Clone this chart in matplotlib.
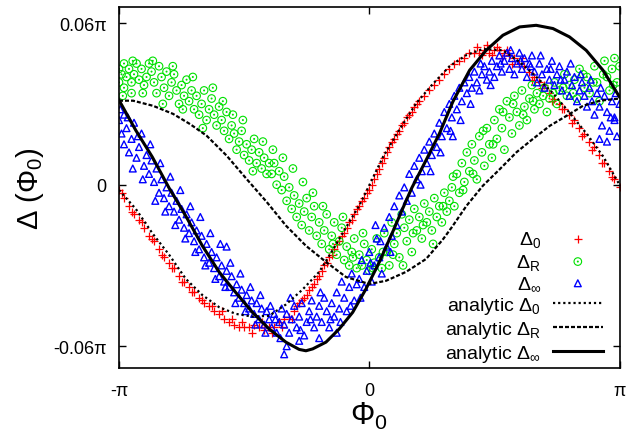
import numpy as np
import matplotlib
matplotlib.use("Agg")
import matplotlib.pyplot as plt
from matplotlib.path import Path

plt.rcParams['font.family'] = ['Liberation Sans', 'DejaVu Sans']
plt.rcParams['mathtext.fontset'] = 'custom'
plt.rcParams['mathtext.rm'] = 'Liberation Sans'
plt.rcParams['mathtext.it'] = 'Liberation Sans:italic'
plt.rcParams['mathtext.bf'] = 'Liberation Sans:bold'

# all values in units of pi: (Phi_0 / pi, Delta / pi)

# Delta_0 simulation points
delta0_pts = [
    (-1.00, -0.002), (-0.98, -0.005), (-0.96, -0.008), (-0.94, -0.011), (-0.92, -0.013),
    (-0.90, -0.016), (-0.88, -0.019), (-0.86, -0.021), (-0.84, -0.024), (-0.82, -0.027),
    (-0.80, -0.029), (-0.78, -0.031), (-0.76, -0.034), (-0.74, -0.036), (-0.72, -0.038),
    (-0.70, -0.040), (-0.68, -0.042), (-0.66, -0.044), (-0.64, -0.045), (-0.62, -0.047),
    (-0.60, -0.048), (-0.58, -0.050), (-0.56, -0.051), (-0.54, -0.052), (-0.52, -0.053),
    (-0.50, -0.053), (-0.48, -0.053), (-0.46, -0.052), (-0.44, -0.053), (-0.42, -0.054),
    (-0.40, -0.053), (-0.38, -0.053), (-0.36, -0.051), (-0.34, -0.050), (-0.32, -0.049),
    (-0.30, -0.047),
    (-0.99, -0.003), (-0.95, -0.010), (-0.91, -0.014), (-0.87, -0.020), (-0.83, -0.026),
    (-0.79, -0.031), (-0.75, -0.036), (-0.71, -0.040), (-0.67, -0.043), (-0.63, -0.045),
    (-0.59, -0.047), (-0.55, -0.050), (-0.51, -0.051), (-0.47, -0.055), (-0.43, -0.051),
    (-0.39, -0.055), (-0.35, -0.053), (-0.31, -0.050),
    (-0.29, -0.045), (-0.28, -0.044), (-0.27, -0.043), (-0.26, -0.042), (-0.25, -0.041),
    (-0.24, -0.039), (-0.23, -0.038), (-0.22, -0.037), (-0.21, -0.035), (-0.20, -0.034),
    (-0.19, -0.032), (-0.18, -0.030), (-0.17, -0.029), (-0.16, -0.027), (-0.15, -0.026),
    (-0.14, -0.024), (-0.13, -0.022), (-0.12, -0.021), (-0.11, -0.019), (-0.10, -0.018),
    (-0.09, -0.016), (-0.08, -0.014), (-0.07, -0.013), (-0.06, -0.011), (-0.05, -0.009),
    (-0.04, -0.008), (-0.03, -0.006), (-0.02, -0.005), (-0.01, -0.003), (0.00, -0.002),
    (0.01, 0.000), (0.02, 0.002), (0.03, 0.004), (0.04, 0.006), (0.05, 0.008),
    (0.06, 0.010), (0.07, 0.012), (0.08, 0.014), (0.09, 0.016), (0.10, 0.017),
    (0.11, 0.019), (0.12, 0.020), (0.13, 0.022), (0.14, 0.023), (0.15, 0.025),
    (0.16, 0.026), (0.17, 0.027), (0.18, 0.029), (0.19, 0.030), (0.20, 0.031),
    (0.22, 0.033), (0.24, 0.035), (0.26, 0.037), (0.28, 0.039), (0.30, 0.041),
    (0.32, 0.043), (0.34, 0.045), (0.36, 0.046), (0.38, 0.047), (0.40, 0.049),
    (0.42, 0.049), (0.44, 0.049), (0.46, 0.050), (0.48, 0.049), (0.50, 0.050),
    (0.52, 0.050), (0.54, 0.049), (0.56, 0.048), (0.58, 0.047), (0.60, 0.045),
    (0.62, 0.044), (0.64, 0.042), (0.66, 0.040), (0.68, 0.038), (0.70, 0.037),
    (0.72, 0.034), (0.74, 0.032), (0.76, 0.030), (0.78, 0.028), (0.80, 0.026),
    (0.82, 0.024), (0.84, 0.021), (0.86, 0.019), (0.88, 0.016), (0.90, 0.014),
    (0.92, 0.011), (0.94, 0.008), (0.96, 0.005), (0.98, 0.002), (1.00, -0.001),
    (0.43, 0.051), (0.45, 0.048), (0.47, 0.052), (0.49, 0.048), (0.51, 0.051),
    (0.53, 0.047), (0.55, 0.050), (0.57, 0.045), (0.61, 0.047), (0.65, 0.039),
    (0.69, 0.036), (0.73, 0.031), (0.77, 0.028), (0.81, 0.023), (0.85, 0.018),
    (0.89, 0.013), (0.93, 0.008), (0.97, 0.003),
]

# Delta_R simulation points
deltaR_pts = [
    (-1.00, 0.043), (-1.00, 0.038), (-0.99, 0.041), (-0.98, 0.045), (-0.98, 0.036),
    (-0.97, 0.040), (-0.96, 0.043), (-0.95, 0.038), (-0.95, 0.034), (-0.94, 0.041),
    (-0.93, 0.045), (-0.92, 0.039), (-0.91, 0.043), (-0.90, 0.037), (-0.89, 0.040),
    (-0.88, 0.045), (-0.87, 0.042), (-0.86, 0.038), (-0.85, 0.034), (-0.84, 0.044),
    (-0.83, 0.040), (-0.82, 0.036), (-0.81, 0.042), (-0.80, 0.033), (-0.79, 0.038),
    (-0.78, 0.041), (-0.77, 0.035), (-0.76, 0.030), (-0.75, 0.037), (-0.74, 0.033),
    (-0.73, 0.039), (-0.72, 0.031), (-0.71, 0.035), (-0.70, 0.028),
    (-0.69, 0.033), (-0.68, 0.026), (-0.67, 0.030), (-0.66, 0.035), (-0.65, 0.024),
    (-0.64, 0.028), (-0.63, 0.032), (-0.62, 0.026), (-0.61, 0.022), (-0.60, 0.029),
    (-0.59, 0.024), (-0.58, 0.020), (-0.57, 0.027), (-0.56, 0.017), (-0.55, 0.022),
    (-0.54, 0.019), (-0.53, 0.013), (-0.52, 0.016), (-0.51, 0.020), (-0.50, 0.011),
    (-0.49, 0.015), (-0.48, 0.009), (-0.47, 0.013), (-0.46, 0.017), (-0.45, 0.008),
    (-0.44, 0.012), (-0.43, 0.006), (-0.42, 0.010), (-0.41, 0.004), (-0.40, 0.008),
    (-0.39, 0.004), (-0.38, 0.008), (-0.37, 0.000), (-0.36, 0.005), (-0.35, -0.002),
    (-0.34, 0.003), (-0.33, -0.006), (-0.32, -0.001), (-0.31, -0.009), (-0.30, -0.004),
    (-0.29, -0.012), (-0.28, -0.007), (-0.27, -0.015), (-0.26, -0.010), (-0.25, -0.005),
    (-0.24, -0.017), (-0.23, -0.012), (-0.22, -0.008), (-0.21, -0.019), (-0.20, -0.014),
    (-0.19, -0.022), (-0.18, -0.017), (-0.17, -0.011), (-0.16, -0.024), (-0.15, -0.019),
    (-0.14, -0.014), (-0.13, -0.026), (-0.12, -0.021), (-0.11, -0.016), (-0.10, -0.028),
    (-0.09, -0.023), (-0.08, -0.030), (-0.07, -0.025), (-0.06, -0.020), (-0.05, -0.031),
    (-0.04, -0.026), (-0.03, -0.030), (-0.02, -0.022), (-0.01, -0.028), (0.00, -0.032),
    (0.01, -0.024), (0.02, -0.029), (0.03, -0.020), (0.04, -0.027), (0.05, -0.031),
    (0.06, -0.018), (0.07, -0.025),
    (0.08, -0.030), (0.09, -0.014), (0.10, -0.022), (0.11, -0.018), (0.12, -0.027),
    (0.13, -0.011), (0.14, -0.016), (0.15, -0.021), (0.16, -0.013), (0.17, -0.025),
    (0.18, -0.009), (0.19, -0.017), (0.20, -0.012), (0.21, -0.020), (0.22, -0.007),
    (0.23, -0.014), (0.24, -0.010), (0.25, -0.017), (0.26, -0.005), (0.27, -0.012),
    (0.28, -0.008), (0.29, -0.014), (0.30, -0.003), (0.31, -0.010), (0.32, -0.006),
    (0.33, -0.001), (0.34, -0.008),
    (0.35, 0.004), (0.36, -0.003), (0.37, 0.008), (0.38, 0.001), (0.39, 0.012),
    (0.40, 0.005), (0.41, 0.015), (0.42, 0.009), (0.43, 0.002), (0.44, 0.018),
    (0.45, 0.012), (0.46, 0.007), (0.47, 0.021), (0.48, 0.015), (0.49, 0.010),
    (0.50, 0.024),
    (0.51, 0.017), (0.52, 0.028), (0.53, 0.021), (0.54, 0.013), (0.55, 0.031),
    (0.56, 0.025), (0.57, 0.019), (0.58, 0.033), (0.59, 0.027), (0.60, 0.022),
    (0.61, 0.035), (0.62, 0.029), (0.63, 0.024), (0.64, 0.032), (0.65, 0.037),
    (0.66, 0.028), (0.67, 0.034), (0.68, 0.030), (0.70, 0.036), (0.71, 0.027),
    (0.72, 0.032), (0.74, 0.038), (0.75, 0.030), (0.76, 0.035), (0.78, 0.041),
    (0.79, 0.033), (0.80, 0.037),
    (0.82, 0.039), (0.83, 0.032), (0.84, 0.043), (0.86, 0.036), (0.87, 0.040),
    (0.88, 0.034), (0.90, 0.044), (0.91, 0.038), (0.92, 0.031), (0.94, 0.046),
    (0.95, 0.040), (0.96, 0.035), (0.97, 0.043), (0.98, 0.047), (0.99, 0.038),
    (1.00, 0.044),
    (-0.985, 0.033), (-0.945, 0.046), (-0.905, 0.034), (-0.865, 0.046), (-0.825, 0.030),
    (-0.785, 0.044), (-0.745, 0.028), (-0.705, 0.040), (-0.665, 0.021), (-0.625, 0.036),
    (-0.585, 0.031), (-0.545, 0.026), (-0.505, 0.024), (-0.465, 0.005), (-0.425, 0.016),
    (-0.385, 0.013), (-0.345, 0.010), (-0.305, 0.006), (-0.265, 0.001), (-0.225, -0.003),
    (-0.185, -0.008), (-0.145, -0.022), (-0.105, -0.012), (-0.065, -0.027), (-0.025, -0.018),
    (0.015, -0.031), (0.055, -0.025), (0.095, -0.026), (0.135, -0.030), (0.175, -0.018),
    (0.215, -0.015), (0.255, -0.022), (0.295, -0.008), (0.335, 0.003), (0.375, -0.002),
    (0.415, 0.004), (0.455, 0.020), (0.495, 0.015), (0.535, 0.027), (0.575, 0.030),
    (0.615, 0.026), (0.655, 0.031), (0.695, 0.033), (0.735, 0.034), (0.775, 0.036),
    (0.815, 0.034), (0.855, 0.041), (0.895, 0.038), (0.935, 0.041), (0.975, 0.037),
]

# Delta_inf simulation points
deltaInf_pts = [
    (-1.00, 0.024), (-0.99, 0.019), (-0.98, 0.026), (-0.98, 0.015), (-0.97, 0.021),
    (-0.96, 0.012), (-0.95, 0.017), (-0.94, 0.023), (-0.93, 0.010), (-0.92, 0.014),
    (-0.91, 0.019), (-0.90, 0.007), (-0.89, 0.011), (-0.88, 0.004), (-0.87, 0.009),
    (-0.86, 0.001), (-0.85, 0.006), (-0.84, -0.003), (-0.83, 0.002), (-0.82, -0.005),
    (-0.81, -0.001), (-0.80, -0.008), (-0.79, -0.003), (-0.78, -0.010), (-0.77, -0.006),
    (-0.76, -0.013), (-0.75, -0.009), (-0.74, -0.016), (-0.73, -0.011), (-0.72, -0.018),
    (-0.71, -0.014), (-0.70, -0.021), (-0.69, -0.017), (-0.68, -0.024), (-0.67, -0.019),
    (-0.66, -0.027), (-0.65, -0.022), (-0.64, -0.029), (-0.63, -0.025), (-0.62, -0.031),
    (-0.61, -0.027), (-0.60, -0.034), (-0.59, -0.030), (-0.58, -0.036), (-0.57, -0.032),
    (-0.56, -0.038), (-0.55, -0.034), (-0.54, -0.040), (-0.53, -0.037), (-0.52, -0.042),
    (-0.51, -0.039), (-0.50, -0.044), (-0.49, -0.041), (-0.48, -0.046), (-0.47, -0.043),
    (-0.46, -0.048), (-0.45, -0.044), (-0.44, -0.050), (-0.43, -0.046), (-0.42, -0.052),
    (-0.41, -0.047), (-0.40, -0.050), (-0.39, -0.053), (-0.38, -0.048), (-0.37, -0.055),
    (-0.36, -0.051), (-0.35, -0.046), (-0.57, -0.023),
    (-0.995, 0.028), (-0.965, 0.025), (-0.945, 0.006), (-0.925, 0.018), (-0.905, 0.002),
    (-0.875, 0.015), (-0.855, -0.006), (-0.835, 0.008), (-0.815, -0.010), (-0.795, 0.003),
    (-0.775, -0.015), (-0.755, -0.002), (-0.735, -0.020), (-0.715, -0.008), (-0.695, -0.025),
    (-0.675, -0.012), (-0.655, -0.030), (-0.635, -0.018), (-0.615, -0.035), (-0.595, -0.022),
    (-0.575, -0.038), (-0.555, -0.029), (-0.535, -0.044), (-0.515, -0.033), (-0.495, -0.047),
    (-0.475, -0.038), (-0.455, -0.052), (-0.435, -0.041), (-0.415, -0.055), (-0.395, -0.045),
    (-0.375, -0.050), (-0.355, -0.057),
    (-0.34, -0.052), (-0.33, -0.048), (-0.32, -0.055), (-0.31, -0.050), (-0.30, -0.045),
    (-0.29, -0.053), (-0.28, -0.049), (-0.27, -0.044), (-0.26, -0.056), (-0.25, -0.051),
    (-0.24, -0.047), (-0.23, -0.043), (-0.22, -0.053), (-0.21, -0.049), (-0.20, -0.045),
    (-0.19, -0.051), (-0.18, -0.042), (-0.17, -0.047), (-0.16, -0.053), (-0.15, -0.044),
    (-0.14, -0.049), (-0.13, -0.040), (-0.12, -0.046), (-0.11, -0.036), (-0.10, -0.042),
    (-0.09, -0.047), (-0.08, -0.038), (-0.07, -0.033), (-0.06, -0.043), (-0.05, -0.037),
    (-0.04, -0.035), (-0.03, -0.028), (-0.02, -0.038), (-0.01, -0.032), (0.00, -0.025),
    (0.01, -0.036), (0.02, -0.030), (0.03, -0.020), (0.04, -0.027), (0.05, -0.033),
    (0.06, -0.016), (0.07, -0.023), (0.08, -0.012), (0.09, -0.019), (0.10, -0.008),
    (0.11, -0.015), (0.12, -0.004), (0.13, -0.010), (0.14, -0.001), (0.15, -0.006),
    (-0.33, -0.060), (-0.34, -0.063), (-0.28, -0.058), (-0.20, -0.057), (-0.13, -0.055),
    (-0.315, -0.042), (-0.275, -0.054), (-0.235, -0.050), (-0.195, -0.040), (-0.155, -0.050),
    (-0.115, -0.051), (-0.075, -0.045), (-0.035, -0.042), (0.005, -0.029), (0.045, -0.021),
    (0.085, -0.025), (0.025, -0.015),
    (0.16, 0.004), (0.17, -0.003), (0.18, 0.007), (0.19, 0.002), (0.20, 0.010),
    (0.21, 0.005), (0.22, 0.013), (0.23, 0.008), (0.24, 0.016), (0.25, 0.011),
    (0.26, 0.019), (0.27, 0.014), (0.28, 0.023), (0.29, 0.018), (0.30, 0.027),
    (0.31, 0.021), (0.32, 0.030), (0.33, 0.025), (0.34, 0.033), (0.35, 0.028),
    (0.36, 0.036), (0.37, 0.031), (0.38, 0.038), (0.39, 0.034), (0.40, 0.040),
    (0.41, 0.036), (0.42, 0.042), (0.43, 0.038), (0.44, 0.035), (0.45, 0.041),
    (0.46, 0.044), (0.47, 0.039), (0.48, 0.042), (0.49, 0.046), (0.50, 0.040),
    (0.51, 0.044), (0.52, 0.048), (0.53, 0.042), (0.54, 0.046), (0.55, 0.049),
    (0.56, 0.043), (0.57, 0.047), (0.58, 0.041), (0.59, 0.045), (0.60, 0.049),
    (0.61, 0.043), (0.62, 0.047), (0.63, 0.040), (0.64, 0.045), (0.65, 0.048),
    (0.66, 0.042), (0.67, 0.038), (0.68, 0.045), (0.69, 0.041), (0.70, 0.036),
    (0.71, 0.043), (0.72, 0.039), (0.73, 0.046), (0.74, 0.037), (0.75, 0.041),
    (0.76, 0.044), (0.77, 0.035), (0.78, 0.039), (0.79, 0.042), (0.80, 0.033),
    (0.81, 0.037), (0.82, 0.040), (0.83, 0.031), (0.84, 0.035), (0.85, 0.038),
    (0.86, 0.033), (0.87, 0.029), (0.88, 0.036), (0.89, 0.031), (0.90, 0.026),
    (0.91, 0.034), (0.92, 0.029), (0.93, 0.022), (0.94, 0.033), (0.95, 0.027),
    (0.96, 0.020), (0.97, 0.031), (0.98, 0.025), (0.99, 0.018), (1.00, 0.030),
    (0.92, 0.017), (0.95, 0.016), (0.98, 0.024), (0.334, 0.018),
    (0.205, 0.000), (0.245, 0.005), (0.285, 0.012), (0.325, 0.020), (0.365, 0.024),
    (0.405, 0.030), (0.445, 0.045), (0.485, 0.037), (0.525, 0.045), (0.565, 0.050),
    (0.605, 0.046), (0.645, 0.044), (0.685, 0.048), (0.725, 0.043), (0.765, 0.039),
    (0.805, 0.045), (0.845, 0.041), (0.885, 0.039), (0.925, 0.036), (0.965, 0.025),
    (0.985, 0.034),
]

# analytic curves
an0_x = [-1.0, -0.933, -0.867, -0.8, -0.733, -0.667, -0.6, -0.533, -0.467, -0.4,
         -0.333, -0.267, -0.2, -0.16, -0.12, -0.08, -0.04, -0.007, 0.055, 0.122,
         0.189, 0.254, 0.322, 0.389, 0.454, 0.534, 0.601, 0.668, 0.736, 0.803,
         0.869, 0.936, 1.0]
an0_y = [-0.002, -0.009, -0.018, -0.026, -0.035, -0.041, -0.0455, -0.048, -0.049, -0.0487,
         -0.0445, -0.039, -0.0324, -0.0264, -0.0202, -0.0139, -0.0078, -0.0016, 0.0103, 0.0207,
         0.0304, 0.0374, 0.0441, 0.0482, 0.0504, 0.0499, 0.0456, 0.0400, 0.0338, 0.0264,
         0.0189, 0.0103, 0.0]

anR_x = [-1.0, -0.944, -0.864, -0.784, -0.716, -0.650, -0.570, -0.490, -0.410, -0.333,
         -0.253, -0.173, -0.093, 0.0, 0.067, 0.147, 0.227, 0.293, 0.33, 0.389,
         0.454, 0.522, 0.589, 0.654, 0.722, 0.789, 0.854, 0.922, 1.0]
anR_y = [0.0312, 0.0312, 0.0293, 0.0263, 0.0225, 0.0182, 0.0108, 0.0021, -0.0064, -0.0152,
         -0.0227, -0.0287, -0.0343, -0.0369, -0.0357, -0.0324, -0.0276, -0.0205, -0.0158, -0.0078,
         -0.0004, 0.0058, 0.0121, 0.0170, 0.0219, 0.0256, 0.0293, 0.0312, 0.0320]

anInf_x = [-1.0, -0.933, -0.867, -0.8, -0.734, -0.667, -0.6, -0.534, -0.467, -0.4,
           -0.333, -0.28, -0.253, -0.226, -0.173, -0.12, -0.066, -0.013, 0.04, 0.093,
           0.133, 0.17, 0.227, 0.28, 0.334, 0.401, 0.467, 0.534, 0.601, 0.667,
           0.734, 0.8, 0.867, 0.934, 1.0]
anInf_y = [0.0314, 0.0202, 0.0103, -0.0012, -0.0115, -0.0227, -0.0324, -0.040, -0.0474, -0.0536,
           -0.0585, -0.0612, -0.0617, -0.0610, -0.0585, -0.0536, -0.0474, -0.0387, -0.0288, -0.0177,
           -0.009, -0.0012, 0.0091, 0.0189, 0.0308, 0.0425, 0.0499, 0.0555, 0.0586, 0.0592,
           0.058, 0.0549, 0.0499, 0.0425, 0.0326]

labels = [r'$\Delta_0$', r'$\Delta_\mathrm{R}$', r'$\Delta_\infty$',
          r'analytic $\Delta_0$', r'analytic $\Delta_\mathrm{R}$', r'analytic $\Delta_\infty$']

# circle with a dot in the middle (gnuplot point type)
dot_circle = Path.make_compound_path(Path.unit_circle(), Path.circle((0, 0), 0.12))

fig = plt.figure(figsize=(6.34, 4.35), dpi=100)
ax = fig.add_axes([119 / 634, 1 - 369 / 435, 500.5 / 634, 361 / 435])

x0, y0 = np.array(delta0_pts).T
xR, yR = np.array(deltaR_pts).T
xI, yI = np.array(deltaInf_pts).T

ax.scatter(x0, y0, marker='+', s=30, c='#ff0000', linewidths=0.9, label=labels[0])
ax.scatter(xR, yR, marker=dot_circle, s=30, facecolors='none', edgecolors='#00e000',
           linewidths=0.8, label=labels[1])
ax.scatter(xI, yI, marker='^', s=24, facecolors='none', edgecolors='#0000ff',
           linewidths=1.0, label=labels[2])

ax.plot(an0_x, an0_y, color='black', lw=1.6, linestyle=(0, (1, 1.3)), label=labels[3])
ax.plot(anR_x, anR_y, color='black', lw=1.6, linestyle=(0, (1.8, 0.9)), label=labels[4])
ax.plot(anInf_x, anInf_y, color='black', lw=2.2, linestyle='-', label=labels[5])

ax.set_xlim(-1, 1)
ax.set_ylim(-0.0681, 0.0660)
ax.set_xticks([-1, 0, 1])
ax.set_xticklabels(['-π', '0', 'π'])
ax.set_yticks([-0.06, 0, 0.06])
ax.set_yticklabels(['-0.06π', '0', '0.06π'])
ax.tick_params(direction='in', length=5, width=1, top=True, right=True, labelsize=13)
ax.tick_params(axis='x', pad=10)
ax.tick_params(axis='y', pad=9)
for sp in ax.spines.values():
    sp.set_linewidth(1.2)

ax.set_xlabel(r'$\Phi_0$', fontsize=22, labelpad=1)
ax.set_ylabel(r'$\Delta\ (\Phi_0)$', fontsize=21, labelpad=5)

ax.legend(loc='lower right', bbox_to_anchor=(0.975, 0.0), frameon=False,
          markerfirst=False, fontsize=14, handlelength=2.6, handletextpad=0.6,
          labelspacing=0.15, scatterpoints=1, borderaxespad=0, borderpad=0.2)

fig.savefig('out.png', dpi=100)
